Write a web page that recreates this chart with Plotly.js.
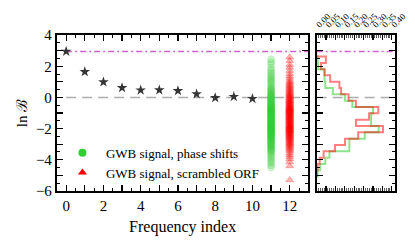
<!DOCTYPE html>
<html>
<head>
<meta charset="utf-8">
<script src="https://cdn.plot.ly/plotly-3.0.1.min.js"></script>
<style>html,body{margin:0;padding:0;background:#fff;}#plot{width:415px;height:246px;}</style>
</head>
<body>
<div id="plot"></div>
<script>
// Frequency-index stars (ln B per frequency bin)
const freqIndex = [0, 1, 2, 3, 4, 5, 6, 7, 8, 9, 10];
const lnBFreq = [2.96, 1.65, 0.99, 0.62, 0.47, 0.48, 0.43, 0.22, -0.02, 0.05, -0.08];

// Reference level (magenta dash-dot) and zero level
const fullLnB = 2.95;
const zeroLevel = 0;

// Column positions for the two null-test sample clouds
const phaseShiftIndex = 11;
const scrambledIndex = 12;

// ln B samples: GWB signal, phase shifts (green)
const phaseShiftLnB = [
  2.45, 2.28, 2.12, 1.9, 1.75, 1.6, 1.48, 1.38, 1.25, 1.15, 1.05,
  0.97, 0.86, 0.74, 0.64, 0.57, 0.5, 0.43, 0.36, 0.29, 0.23,
  0.17, 0.12, 0.06, 0.01, -0.04, -0.09, -0.14, -0.19,
  -0.24, -0.28, -0.33, -0.38, -0.42, -0.47, -0.51, -0.56, -0.6,
  -0.64, -0.67, -0.71, -0.74, -0.77, -0.81, -0.84, -0.87, -0.91, -0.94, -0.97, -1.0,
  -1.04, -1.08, -1.12, -1.15, -1.19, -1.23, -1.26, -1.3, -1.34, -1.37, -1.41,
  -1.45, -1.49, -1.52, -1.56, -1.6, -1.63, -1.67, -1.71, -1.74, -1.78, -1.81,
  -1.85, -1.88, -1.92, -1.95, -1.98, -2.02, -2.05, -2.09, -2.12, -2.15, -2.19, -2.22,
  -2.26, -2.3, -2.34, -2.38, -2.42, -2.46, -2.5, -2.54, -2.58, -2.62,
  -2.68, -2.73, -2.78, -2.83, -2.88, -2.93, -2.98, -3.03,
  -3.08, -3.14, -3.2, -3.26, -3.32, -3.38, -3.44,
  -3.52, -3.62, -3.72, -3.83, -3.95, -4.08, -4.2, -4.35, -4.5
];

// ln B samples: GWB signal, scrambled ORF (red)
const scrambledLnB = [
  2.58, 2.35, 2.1, 1.92, 1.72, 1.52, 1.36, 1.22, 1.08,
  0.97, 0.89, 0.8, 0.72, 0.64, 0.57, 0.5, 0.43, 0.36, 0.29, 0.23,
  0.17, 0.12, 0.06, 0.01, -0.04, -0.09, -0.14, -0.19,
  -0.24, -0.28, -0.33, -0.38, -0.42, -0.47, -0.51, -0.56, -0.6,
  -0.64, -0.67, -0.71, -0.74, -0.77, -0.8, -0.84, -0.87, -0.9, -0.94, -0.97, -1.0,
  -1.04, -1.08, -1.12, -1.15, -1.19, -1.23, -1.26, -1.3, -1.34, -1.37, -1.41,
  -1.45, -1.49, -1.53, -1.57, -1.61, -1.65, -1.69, -1.73, -1.77, -1.81,
  -1.85, -1.88, -1.92, -1.95, -1.98, -2.02, -2.05, -2.09, -2.12, -2.15, -2.19, -2.22,
  -2.27, -2.31, -2.36, -2.4, -2.45, -2.49, -2.54, -2.58, -2.63,
  -2.68, -2.74, -2.8, -2.86, -2.92, -2.97, -3.03,
  -3.1, -3.18, -3.26, -3.34, -3.42, -3.55, -3.68, -3.8, -3.95, -4.15, -4.4, -5.3
];

// Right-panel histogram (probability density per ln B bin), top edge first
const binEdges = [2.63, 2.22, 1.82, 1.42, 1.01, 0.60, 0.20, -0.21, -0.62, -1.02,
                  -1.43, -1.83, -2.24, -2.65, -3.05, -3.46, -3.87, -4.27, -4.67, -5.08];
const scrambledDensity = [0.049, 0.023, 0.042, 0.072, 0.121, 0.130, 0.170, 0.209, 0.328, 0.279,
                          0.209, 0.353, 0.221, 0.151, 0.098, 0.037, 0.016, 0.005, 0.0];
const phaseShiftDensity = [0.005, 0.008, 0.042, 0.042, 0.046, 0.086, 0.150, 0.190, 0.300, 0.290,
                           0.290, 0.330, 0.256, 0.174, 0.174, 0.068, 0.046, 0.019, 0.005];

// Tick labels
const xTickVals = [0, 1, 2, 3, 4, 5, 6, 7, 8, 9, 10, 11, 12];
const xTickText = ['0', '', '2', '', '4', '', '6', '', '8', '', '10', '', '12'];
const yTickVals = [-6, -5, -4, -3, -2, -1, 0, 1, 2, 3, 4];
const yTickText = ['\u22126', '', '\u22124', '', '\u22122', '', '0', '', '2', '', '4'];
const hTickVals = [0, 0.05, 0.1, 0.15, 0.2, 0.25, 0.3, 0.35, 0.4];
const hTickText = ['0.00', '0.05', '0.10', '0.15', '0.20', '0.25', '0.30', '0.35', '0.40'];

const labels = {
  green: 'GWB signal, phase shifts',
  red: 'GWB signal, scrambled ORF',
  xTitle: 'Frequency index',
  yTitle: 'ln \u212C'
};

const GREEN = 'rgb(50,205,50)';
const RED = 'rgb(255,0,0)';
const SERIF = 'Liberation Serif';

function stepPath(edges, dens) {
  const xs = [0], ys = [edges[0]];
  for (let i = 0; i < dens.length; i++) { xs.push(dens[i]); ys.push(edges[i + 1]); }
  xs.push(0); ys.push(edges[edges.length - 1]);
  return {xs, ys};
}
const gStep = stepPath(binEdges, phaseShiftDensity);
const rStep = stepPath(binEdges, scrambledDensity);

const traces = [
  {x: phaseShiftLnB.map(() => phaseShiftIndex), y: phaseShiftLnB, type: 'scatter', mode: 'markers',
   marker: {symbol: 'circle', size: 7, color: 'rgba(50,205,50,0.22)', line: {width: 0.8, color: 'rgba(50,205,50,0.22)'}},
   showlegend: false, xaxis: 'x', yaxis: 'y', hoverinfo: 'skip'},
  {x: scrambledLnB.map(() => scrambledIndex), y: scrambledLnB, type: 'scatter', mode: 'markers',
   marker: {symbol: 'triangle-up', size: 7, color: 'rgba(255,0,0,0.3)', line: {width: 0.8, color: 'rgba(255,0,0,0.3)'}},
   showlegend: false, xaxis: 'x', yaxis: 'y', hoverinfo: 'skip'},
  {x: freqIndex, y: lnBFreq, type: 'scatter', mode: 'markers',
   marker: {symbol: 'star', size: 8, color: '#353535', line: {width: 0}},
   showlegend: false, xaxis: 'x', yaxis: 'y'},
  {x: [null], y: [null], type: 'scatter', mode: 'markers', name: labels.green,
   marker: {symbol: 'circle', size: 8, color: GREEN}, xaxis: 'x', yaxis: 'y'},
  {x: [null], y: [null], type: 'scatter', mode: 'markers', name: labels.red,
   marker: {symbol: 'triangle-up', size: 8, color: RED}, xaxis: 'x', yaxis: 'y'},
  {x: gStep.xs, y: gStep.ys, type: 'scatter', mode: 'lines', line: {shape: 'hv', color: 'rgba(50,205,50,0.55)', width: 2},
   showlegend: false, xaxis: 'x2', yaxis: 'y2'},
  {x: rStep.xs, y: rStep.ys, type: 'scatter', mode: 'lines', line: {shape: 'hv', color: 'rgba(255,0,0,0.5)', width: 2},
   showlegend: false, xaxis: 'x2', yaxis: 'y2'}
];

const axisCommon = {
  showline: true, linecolor: 'black', linewidth: 2, mirror: 'allticks',
  ticks: 'inside', ticklen: 6, tickwidth: 1.2, tickcolor: 'black',
  showgrid: false, zeroline: false, fixedrange: true,
  tickfont: {family: SERIF, size: 15, color: 'black'}
};

const layout = {
  width: 415, height: 246,
  margin: {l: 0, r: 0, t: 0, b: 0},
  paper_bgcolor: 'white', plot_bgcolor: 'white',
  font: {family: SERIF, size: 14, color: 'black'},
  showlegend: true,
  legend: {x: 0.142, y: 0.44, xanchor: 'left', yanchor: 'top', bgcolor: 'rgba(0,0,0,0)',
           font: {family: SERIF, size: 13, color: 'black'}, tracegroupgap: 0, itemwidth: 37},
  xaxis: Object.assign({}, axisCommon, {
    domain: [0.137, 0.743], range: [-0.5, 13], anchor: 'y',
    tickmode: 'array', tickvals: xTickVals, ticktext: xTickText,
    minor: {dtick: 0.5, tick0: 0, ticklen: 3, ticks: 'inside', tickcolor: 'black', tickwidth: 1},
    title: {text: labels.xTitle, font: {family: SERIF, size: 16, color: 'black'}, standoff: 8}
  }),
  yaxis: Object.assign({}, axisCommon, {
    domain: [0.224, 0.857], range: [-6, 4], anchor: 'x',
    tickmode: 'array', tickvals: yTickVals, ticktext: yTickText,
    minor: {dtick: 0.5, tick0: 0, ticklen: 3, ticks: 'inside', tickcolor: 'black', tickwidth: 1},
    title: {text: labels.yTitle, font: {family: SERIF, size: 15, color: 'black'}, standoff: 5}
  }),
  xaxis2: Object.assign({}, axisCommon, {
    domain: [0.763, 0.951], range: [0, 0.415], anchor: 'y2', side: 'top',
    tickmode: 'array', tickvals: hTickVals, ticktext: hTickText, tickangle: -45,
    tickfont: {family: SERIF, size: 9, color: 'black'}, ticklen: 5,
    minor: {dtick: 0.01, tick0: 0, ticklen: 3, ticks: 'inside', tickcolor: '#333', tickwidth: 0.8}
  }),
  yaxis2: Object.assign({}, axisCommon, {
    domain: [0.224, 0.857], range: [-6, 4], anchor: 'x2',
    tickmode: 'array', tickvals: yTickVals, showticklabels: false,
    minor: {dtick: 0.5, tick0: 0, ticklen: 3, ticks: 'inside', tickcolor: 'black', tickwidth: 1}
  }),
  shapes: [
    {type: 'line', xref: 'x', yref: 'y', x0: 0, x1: 13, y0: fullLnB, y1: fullLnB, layer: 'below',
     line: {color: 'rgba(205,80,205,0.9)', width: 1.5, dash: '6px,3px,2px,3px'}},
    {type: 'line', xref: 'x', yref: 'y', x0: 0, x1: 13, y0: zeroLevel, y1: zeroLevel, layer: 'below',
     line: {color: 'rgba(160,160,160,0.85)', width: 1.5, dash: '10px,6px'}},
    {type: 'line', xref: 'x2 domain', yref: 'y2', x0: 0, x1: 1, y0: fullLnB, y1: fullLnB, layer: 'below',
     line: {color: 'rgba(205,80,205,0.9)', width: 1.5, dash: '6px,3px,2px,3px'}},
    {type: 'line', xref: 'x2 domain', yref: 'y2', x0: 0, x1: 1, y0: zeroLevel, y1: zeroLevel, layer: 'below',
     line: {color: 'rgba(160,160,160,0.85)', width: 1.5, dash: '10px,6px'}}
  ]
};

Plotly.newPlot('plot', traces, layout, {staticPlot: true, displayModeBar: false});
</script>
</body>
</html>
